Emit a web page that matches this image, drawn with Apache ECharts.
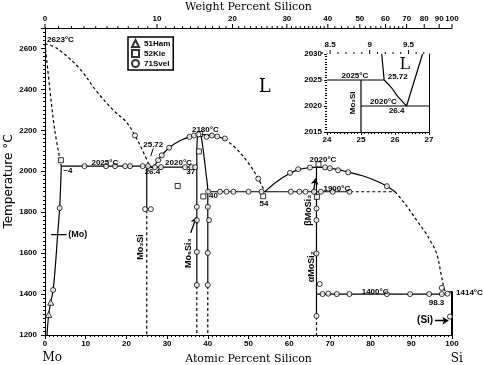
<!DOCTYPE html>
<html><head><meta charset="utf-8">
<script src="https://cdn.jsdelivr.net/npm/echarts@6/dist/echarts.min.js"></script>
<style>html,body{margin:0;padding:0;background:#fff}#c{width:484px;height:365px}</style>
</head><body><div id="c"></div>
<script>
// ---------- tick labels ----------
const atTicks = [0,10,20,30,40,50,60,70,80,90,100];
const wtTicks = [0,10,20,30,40,50,60,70,80,90,100];
const insetWtTicks = [8.5,9,9.5];

// ---------- phase boundaries (at% Si, °C) ----------
const moLiquidus = [[0,2623],[3,2600],[8.6,2500],[12.3,2400],[16.7,2300],[20,2240],[22.1,2175],[24,2100],[25.72,2025]];
const moSolidus = [[0,2623],[1.2,2400],[2.4,2200],[4,2025]];
const moSolvus = [[4,2025],[3.6,1820],[3.1,1690],[2.6,1550],[2,1420],[1.4,1360],[0.9,1300],[0.5,1200]];
const eut2025 = [[4,2025],[25.72,2025]];
const eut2020 = [[25,2020],[37.3,2020]];
const mo3SiSolid = [[25,2025],[25,1810]];
const mo3SiDash = [[25,1810],[25,1200]];
const liqA = [[25.72,2025],[26.4,2020],[27.8,2054],[28.7,2078],[30.5,2115],[33,2148],[35.5,2168],[38,2180]];
const liqBSolid = [[38,2180],[40,2177],[42.3,2170],[44.2,2158]];
const liqBDash = [[44.2,2158],[47,2110],[50,2040],[52.4,1964],[54,1900]];
const mo5Si3LeftSolid = [[37.5,2180],[37.3,2100],[37.3,1440]];
const mo5Si3LeftDash = [[37.3,1440],[37.3,1200]];
const mo5Si3RightSolid = [[38.3,2180],[38.9,2100],[39.5,2000],[40,1900],[40,1440]];
const mo5Si3RightDash = [[40,1440],[40,1200]];
const eut1900Solid = [[40,1900],[75,1900]];
const eut1900Dash = [[75,1900],[86,1900]];
const liqCSolid = [[54,1900],[57,1950],[60.2,1990],[62.2,2008],[65,2018],[66.7,2020],[69,2018],[72,2008],[74.5,1996],[78,1978],[81,1956],[84,1927],[86,1900]];
const liqCDash = [[86,1900],[88.5,1840],[91.3,1761],[93.5,1700],[94.6,1663],[96.2,1600],[97.3,1500],[98,1430],[98.3,1414]];
const moSi2Solid = [[66.7,2020],[66.7,1290]];
const moSi2Dash = [[66.7,1290],[66.7,1200]];
const eut1400 = [[66.7,1400],[98.3,1400]];
const siLiq = [[98.3,1400],[100,1414]];
const siLine = [[100,1414],[100,1200]];
const moMarkLine = [[1.5,1690],[5.3,1690]];
const leader2572 = [[26.6,2112],[26,2075]];

// ---------- arrows ----------
const arrows = [
  [[35.8,1700],[37.2,1775]],
  [[65.9,1895],[66.5,1965]],
  [[95.8,1270],[99.1,1270]]
];

// ---------- experimental points ----------
const ham51 = [[1.4,1360],[0.9,1300]];
const kie52 = [[3.9,2054],[37.8,2097],[32.6,1928],[38.9,1877],[53.6,1878],[67.2,2034],[66.8,1875],[38.1,2182]];
const svel71 = [[3.6,1820],[2,1420],[22.1,2175],
  [9.7,2025],[15,2025],[17.2,2025],[19.7,2025],[20.9,2025],[24,2025],[25.3,2025],
  [24.6,1815],[26,1815],
  [27.8,2054],[28.7,2078],[30.5,2115],[35.5,2168],[36.6,2175],[37.7,2180],
  [27,2020],[28.5,2020],[34.4,2020],[36,2020],[36.9,2020],
  [39.7,2168],[41,2175],[42.3,2170],[44.2,2160],
  [37.3,1826],[37.3,1761],[37.3,1606],[37.3,1444],
  [40,1826],[40.3,1761],[40,1601],[40,1444],
  [40.1,1900],[43,1900],[44.6,1900],[46.3,1900],[50,1900],[53.2,1900],[60.4,1900],[62.5,1900],[64,1900],[66.1,1900],[67.8,1900],[70.7,1900],[74.8,1900],
  [52.4,1964],
  [60.2,1992],[62.2,2010],[65.1,2018],[68.8,2019],[70,2015],[72,2005],[74.5,1995],[84,1927],
  [66.7,1818],[66.7,1761],[66.7,1598],[67.5,1449],[66.7,1293],
  [68.2,1400],[69.6,1402],[71.7,1400],[74.8,1400],[84,1400],[89.7,1400],[94.4,1400],[97.5,1400],[98.9,1402],
  [99.5,1290],[97.5,1430]];

// ---------- inset boundaries ----------
const inEut2025 = [[24,2025],[25.68,2025]];
const inMo3Si = [[25,2025],[25,2015]];
const inEut2020 = [[25,2020],[27,2020]];
const inLiqLeft = [[25.61,2030],[25.68,2025]];
const inLiqCurve = [[25.68,2025],[25.9,2023.5],[26.05,2022.1],[26.2,2021],[26.34,2020]];
const inLiqRight = [[26.34,2020],[26.81,2030]];

// ---------- text labels [x, y, text, rotate, size, align] ----------
const mainLabels = [
  [0.5,2642,'2623°C',0,8,'left'],
  [14.7,2040,'2025°C',0,8,'center'],
  [5.6,2001,'~4',0,8,'center'],
  [26.6,2127,'25.72',0,8,'center'],
  [26.4,1997,'26.4',0,8,'center'],
  [32.8,2040,'2020°C',0,8,'center'],
  [35.8,1997,'37',0,8,'center'],
  [39.4,2203,'2180°C',0,8,'center'],
  [41.4,1880,'40',0,8,'center'],
  [53.8,1842,'54',0,8,'center'],
  [68.3,2057,'2020°C',0,8,'center'],
  [71.7,1916,'1900°C',0,8,'center'],
  [81.1,1411,'1400°C',0,8,'center'],
  [96.2,1358,'98.3',0,8,'center'],
  [101,1408,'1414°C',0,8,'left'],
  [93.4,1270,'(Si)',0,10,'center'],
  [5.7,1690,'(Mo)',0,9,'left'],
  [23.4,1630,'Mo₃Si',90,9,'center'],
  [35.2,1600,'Mo₅Si₃',90,9,'center'],
  [64.7,1810,'βMoSi₂',90,9,'center'],
  [65.5,1533,'αMoSi₂',90,9,'center'],
  [54,2410,'L',0,18,'center'],
  [1.8,1088,'Mo',0,12,'center'],
  [101.2,1085,'Si',0,12,'center']
];
const insetLabels = [
  [24.82,2025.9,'2025°C',0,8,'center'],
  [26.08,2025.6,'25.72',0,8,'center'],
  [25.66,2020.8,'2020°C',0,8,'center'],
  [26.05,2019.1,'26.4',0,8,'center'],
  [24.76,2020.6,'Mo₃Si',90,8,'center'],
  [26.29,2027.9,'L',0,16,'center']
];

// weight % -> atomic % (Mo 95.95, Si 28.0855)
const w2a = w => w <= 0 ? 0 : (w >= 100 ? 100 : 100 * (w / 28.0855) / (w / 28.0855 + (100 - w) / 95.95));

function line(data, dashed, inset, smooth, width) {
  return {type:'line', data, showSymbol:false, symbol:'none', smooth: smooth ? 0.35 : false,
    xAxisIndex: inset ? 2 : 0, yAxisIndex: inset ? 2 : 0, silent:true, z:5,
    lineStyle:{color:'#000', width: width || 1.2, type: dashed ? [3,2.5] : 'solid'}};
}
function labelSeries(arr, xi, yi) {
  return {type:'custom', xAxisIndex:xi, yAxisIndex:yi, clip:false, silent:true, z:10,
    data: arr.map(l => [l[0], l[1]]),
    renderItem(params, api) {
      const l = arr[params.dataIndex];
      const p = api.coord([api.value(0), api.value(1)]);
      const big = l[2] === 'L' || l[2] === 'Mo' || l[2] === 'Si';
      return {type:'text', x:p[0], y:p[1], rotation: l[3] ? l[3] * Math.PI / 180 : 0,
        style:{text:l[2], fill:'#000', fontSize:l[4], fontWeight: big ? 'normal' : 'bold',
          fontFamily: big ? 'DejaVu Serif' : 'Liberation Sans', textAlign:l[5], textVerticalAlign:'middle'}};
    }};
}
function topTicks(majors, minors, xi, yi, topVal) {
  const data = majors.map(w => [w2a(w), topVal, w, 1]).concat(minors.map(w => [w2a(w), topVal, w, 0]));
  return {type:'custom', xAxisIndex:xi, yAxisIndex:yi, clip:false, silent:true, z:10,
    encode:{x:0, y:1}, data,
    renderItem(params, api) {
      const p = api.coord([api.value(0), api.value(1)]);
      const major = api.value(3) === 1;
      const ch = [{type:'line', shape:{x1:p[0], y1:p[1], x2:p[0], y2:p[1] - (major ? 4 : 2)}, style:{stroke:'#000', lineWidth:1}}];
      if (major) ch.push({type:'text', x:p[0], y:p[1] - 5, style:{text:String(api.value(2)), fill:'#000', fontSize:8, fontWeight:'bold', fontFamily:'Liberation Sans', textAlign:'center', textVerticalAlign:'bottom'}});
      return {type:'group', children:ch};
    }};
}
const mainMinorWt = [];
for (let w = 1; w < 100; w++) { if (w % 10 !== 0 && (w < 40 || w % 2 === 0) && (w < 70 || w % 5 === 0)) mainMinorWt.push(w); }
const insetMinorWt = [];
for (let w = 84; w <= 97; w++) { if (w % 5 !== 0) insetMinorWt.push(w / 10); }

const lab = {fontSize:8, fontWeight:'bold', fontFamily:'Liberation Sans', color:'#000', formatter: v => String(v)};
const axLine = {show:true, lineStyle:{color:'#000', width:1}};
const chart = echarts.init(document.getElementById('c'), null, {renderer:'canvas'});
const symStyle = {color:'#fff', borderColor:'#000', borderWidth:1};

chart.setOption({
  animation:false,
  backgroundColor:'#fff',
  grid:[
    {left:45, right:32, top:28, bottom:30, show:false, outerBoundsMode:'none', containLabel:false},
    {left:327, top:54, width:102, height:78, show:true, backgroundColor:'#fff', borderWidth:0, z:1, outerBoundsMode:'none', containLabel:false}
  ],
  legend:{data:['51Ham','52Kie','71Svel'], orient:'vertical', left:128, top:37, itemWidth:7, itemHeight:7, itemGap:1,
    padding:[2,3,2,3], borderColor:'#000', borderWidth:1.5, backgroundColor:'#fff', selectedMode:false,
    textStyle:{fontSize:8, fontWeight:'bold', fontFamily:'Liberation Sans', color:'#000'}},
  xAxis:[
    {type:'value', gridIndex:0, position:'bottom', min:0, max:100, interval:10, axisLine:axLine,
     axisTick:{show:true, length:4, lineStyle:{color:'#000'}}, minorTick:{show:true, splitNumber:10, length:2, lineStyle:{color:'#000'}},
     axisLabel:{...lab, margin:5}, splitLine:{show:false},
     name:'Atomic Percent Silicon', nameLocation:'middle', nameGap:19, nameMoveOverlap:false,
     nameTextStyle:{fontSize:11, fontFamily:'DejaVu Serif', color:'#000'}},
    {type:'value', gridIndex:0, position:'top', min:0, max:100, axisLine:axLine, axisTick:{show:false}, axisLabel:{show:false}, splitLine:{show:false},
     name:'Weight Percent Silicon', nameLocation:'middle', nameGap:15, nameMoveOverlap:false,
     nameTextStyle:{fontSize:11, fontFamily:'DejaVu Serif', color:'#000'}},
    {type:'value', gridIndex:1, position:'bottom', min:24, max:27, interval:1, axisLine:axLine,
     axisTick:{show:true, length:3, lineStyle:{color:'#000'}}, minorTick:{show:true, splitNumber:10, length:2, lineStyle:{color:'#000'}},
     axisLabel:{...lab, margin:4}, splitLine:{show:false}},
    {type:'value', gridIndex:1, position:'top', min:24, max:27, axisLine:axLine, axisTick:{show:false}, axisLabel:{show:false}, splitLine:{show:false}}
  ],
  yAxis:[
    {type:'value', gridIndex:0, position:'left', min:1200, max:2700, interval:200, axisLine:axLine,
     axisTick:{show:true, length:4, lineStyle:{color:'#000'}}, minorTick:{show:true, splitNumber:10, length:2, lineStyle:{color:'#000'}},
     axisLabel:{...lab, margin:8, showMaxLabel:false}, splitLine:{show:false},
     name:'Temperature °C', nameLocation:'middle', nameGap:30, nameRotate:90, nameMoveOverlap:false,
     nameTextStyle:{fontSize:12, fontFamily:'DejaVu Sans', color:'#000'}},
    {type:'value', gridIndex:0, position:'right', min:1200, max:2700, interval:200, axisLine:axLine,
     axisTick:{show:true, inside:true, length:4, lineStyle:{color:'#000'}}, minorTick:{show:true, splitNumber:10, length:2, lineStyle:{color:'#000'}},
     axisLabel:{show:false}, splitLine:{show:false}},
    {type:'value', gridIndex:1, position:'left', min:2015, max:2030, interval:5, axisLine:axLine,
     axisTick:{show:true, length:3, lineStyle:{color:'#000'}}, minorTick:{show:true, splitNumber:10, length:2, lineStyle:{color:'#000'}},
     axisLabel:{...lab, margin:5}, splitLine:{show:false}},
    {type:'value', gridIndex:1, position:'right', min:2015, max:2030, interval:5, axisLine:axLine,
     axisTick:{show:true, inside:true, length:3, lineStyle:{color:'#000'}}, axisLabel:{show:false}, splitLine:{show:false}}
  ],
  series:[
    line(moLiquidus, true, false, true),
    line(moSolidus, true, false, true),
    line(moSolvus, false, false, true),
    line(eut2025, false),
    line(eut2020, false),
    line(mo3SiSolid, false),
    line(mo3SiDash, true),
    line(liqA, false, false, true),
    line(liqBSolid, false, false, true),
    line(liqBDash, true, false, true),
    line(mo5Si3LeftSolid, false, false, true),
    line(mo5Si3LeftDash, true),
    line(mo5Si3RightSolid, false, false, true),
    line(mo5Si3RightDash, true),
    line(eut1900Solid, false),
    line(eut1900Dash, true),
    line(liqCSolid, false, false, true),
    line(liqCDash, true, false, true),
    line(moSi2Solid, false),
    line(moSi2Dash, true),
    line(eut1400, false),
    line(siLiq, false),
    line(siLine, false, false, false, 2),
    line(moMarkLine, false),
    line(leader2572, false, false, false, 1),
    {type:'lines', coordinateSystem:'cartesian2d', xAxisIndex:0, yAxisIndex:0, silent:true, z:6,
     symbol:['none','arrow'], symbolSize:6,
     lineStyle:{color:'#000', width:1.3, opacity:1, curveness:0},
     data: arrows.map(a => ({coords:a}))},
    {name:'51Ham', type:'scatter', data:ham51, symbol:'triangle', symbolSize:6, itemStyle:symStyle, z:7, silent:true},
    {name:'52Kie', type:'scatter', data:kie52, symbol:'rect', symbolSize:5, itemStyle:symStyle, z:7, silent:true},
    {name:'71Svel', type:'scatter', data:svel71, symbol:'circle', symbolSize:5, itemStyle:symStyle, z:7, silent:true},
    labelSeries(mainLabels, 0, 0),
    topTicks(wtTicks, mainMinorWt, 0, 0, 2700),
    line(inEut2025, false, true),
    line(inMo3Si, false, true),
    line(inEut2020, false, true),
    line(inLiqLeft, false, true),
    line(inLiqCurve, false, true, true),
    line(inLiqRight, false, true),
    labelSeries(insetLabels, 2, 2),
    topTicks(insetWtTicks, insetMinorWt, 2, 2, 2030)
  ]
});
</script></body></html>
